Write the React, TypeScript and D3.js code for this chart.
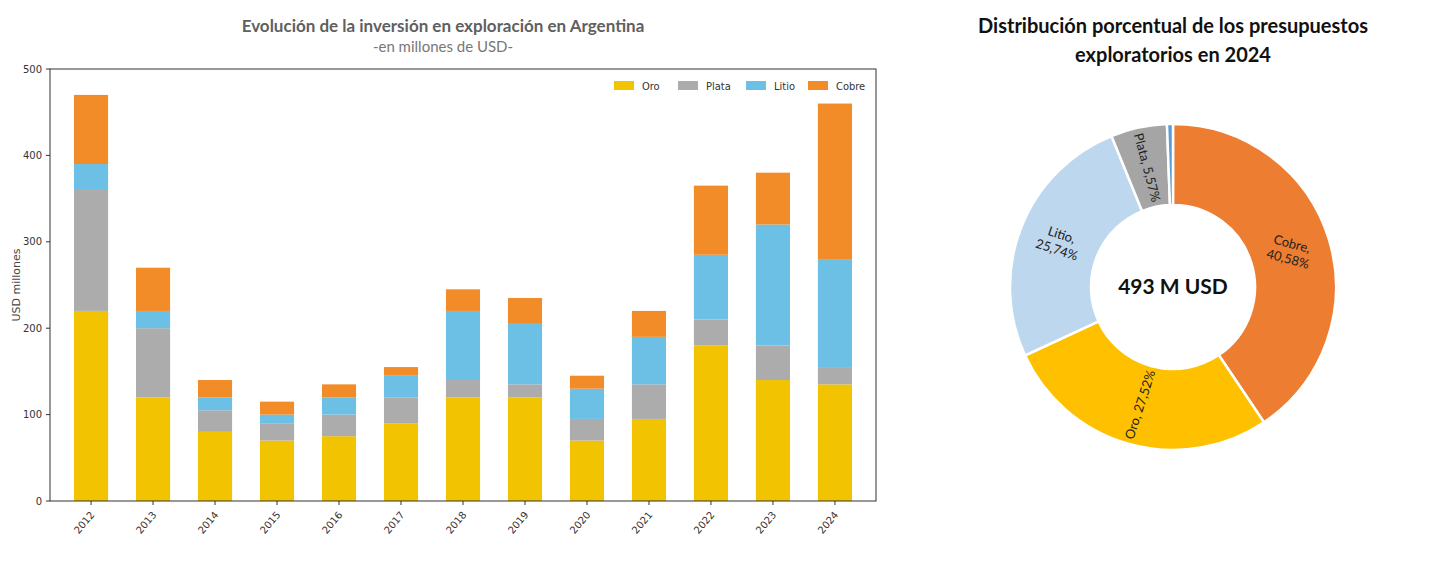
import React from 'react';
import * as d3 from 'd3';

const years = ['2012', '2013', '2014', '2015', '2016', '2017', '2018', '2019', '2020', '2021', '2022', '2023', '2024'];
const metals = ['Oro', 'Plata', 'Litio', 'Cobre'];
const oro = [220, 120, 80, 70, 75, 90, 120, 120, 70, 95, 180, 140, 135];
const plata = [140, 80, 25, 20, 25, 30, 20, 15, 25, 40, 30, 40, 20];
const litio = [30, 20, 15, 10, 20, 25, 80, 70, 35, 55, 75, 140, 125];
const cobre = [80, 50, 20, 15, 15, 10, 25, 30, 15, 30, 80, 60, 180];
const yTicks = [0, 100, 200, 300, 400, 500];

const pieLabels = ['Cobre', 'Oro', 'Litio', 'Plata', 'Otros'];
const pieValues = [40.58, 27.52, 25.74, 5.57, 0.59];
const pieText = [['Cobre,', '40,58%'], ['Oro, 27,52%'], ['Litio,', '25,74%'], ['Plata, 5,57%'], []];
const pieRotate = [15, -72, 18, 75, 0];

const barColors = ['#f2c300', '#acacac', '#6cc0e5', '#f28c28'];
const pieColors = ['#ed7d31', '#ffc000', '#bdd7ee', '#a5a5a5', '#5b9bd5'];

const M = { l: 50, r: 876, t: 69, b: 501 };

export default function App() {
  const x = d3.scaleBand().domain(years).range([M.l + 24, M.r - 24]).paddingInner(0.45).paddingOuter(0);
  const y = d3.scaleLinear().domain([0, 500]).range([M.b, M.t]);
  const rows = years.map((yr, i) => ({ year: yr, Oro: oro[i], Plata: plata[i], Litio: litio[i], Cobre: cobre[i] }));
  const stack = d3.stack<any>().keys(metals)(rows);

  const cx = 1173, cy = 287, ro = 163, ri = 82;
  const pie = d3.pie<number>().sort(null)(pieValues);
  const arc = d3.arc<d3.PieArcDatum<number>>().innerRadius(ri).outerRadius(ro);
  const labelArc = d3.arc<d3.PieArcDatum<number>>().innerRadius(ro * 0.75).outerRadius(ro * 0.75);
  const font = 'Lato, "Open Sans", sans-serif';

  return (
    <svg width={1440} height={561} style={{ position: 'absolute', left: 0, top: 0 }} fontFamily={font}>
      <rect width={1440} height={561} fill="#fff" />
      <text x={443} y={32} textAnchor="middle" fontSize={17} fontWeight={700} fill="#5f5f5f">Evolución de la inversión en exploración en Argentina</text>
      <text x={443} y={52} textAnchor="middle" fontSize={15} fill="#777">-en millones de USD-</text>
      {stack.map((s, k) => (
        <g key={k} fill={barColors[k]}>
          {s.map((d, i) => (
            <rect key={i} x={x(years[i])} width={x.bandwidth()} y={y(d[1])} height={y(d[0]) - y(d[1])} />
          ))}
        </g>
      ))}
      <rect x={M.l} y={M.t} width={M.r - M.l} height={M.b - M.t} fill="none" stroke="#333" strokeWidth={1} />
      {yTicks.map(t => (
        <g key={t} transform={`translate(${M.l},${y(t)})`}>
          <line x1={-4} x2={0} stroke="#333" />
          <text x={-8} dy="0.35em" textAnchor="end" fontSize={10} fill="#333" fontFamily="DejaVu Sans">{t}</text>
        </g>
      ))}
      {years.map(yr => {
        const xc = x(yr)! + x.bandwidth() / 2;
        return (
          <g key={yr}>
            <line x1={xc} x2={xc} y1={M.b} y2={M.b + 4} stroke="#333" />
            <text transform={`translate(${xc + 4},${M.b + 14}) rotate(-50)`} textAnchor="end" fontSize={10} fill="#333" fontFamily="DejaVu Sans">{yr}</text>
          </g>
        );
      })}
      <text transform={`translate(20,${(M.t + M.b) / 2}) rotate(-90)`} textAnchor="middle" fontSize={11} fill="#444" fontFamily="DejaVu Sans">USD millones</text>
      {metals.map((m, i) => {
        const lx = [614, 678, 746, 808][i];
        return (
          <g key={m}>
            <rect x={lx} y={81} width={20} height={9} fill={barColors[i]} />
            <text x={lx + 28} y={89.5} fontSize={11} fill="#333" fontFamily="'Liberation Sans Narrow', 'DejaVu Sans Condensed', sans-serif">{m}</text>
          </g>
        );
      })}

      <text x={cx} y={33} textAnchor="middle" fontSize={20} fontWeight={700} fill="#111">Distribución porcentual de los presupuestos</text>
      <text x={cx} y={62} textAnchor="middle" fontSize={20} fontWeight={700} fill="#111">exploratorios en 2024</text>
      <g transform={`translate(${cx},${cy})`}>
        {pie.map((p, i) => (
          <path key={i} d={arc(p)!} fill={pieColors[i]} stroke="#fff" strokeWidth={2.5} />
        ))}
        {pie.map((p, i) => {
          const [px, py] = labelArc.centroid(p);
          const lines = pieText[i];
          return (
            <text key={'l' + i} transform={`translate(${px},${py}) rotate(${pieRotate[i]})`} textAnchor="middle" fontSize={13} fill="#222">
              {lines.map((ln, j) => (
                <tspan key={j} x={0} dy={j === 0 ? `${0.35 - (lines.length - 1) * 0.6}em` : '1.2em'}>{ln}</tspan>
              ))}
            </text>
          );
        })}
        <text x={0} y={0} dy="0.35em" textAnchor="middle" fontSize={21} fontWeight={700} fill="#111">493 M USD</text>
      </g>
    </svg>
  );
}
